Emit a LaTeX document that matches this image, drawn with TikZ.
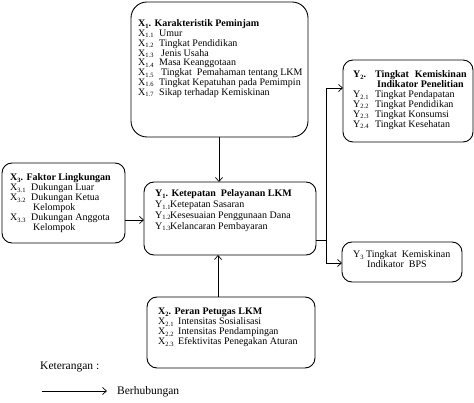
\documentclass[tikz,border=0pt]{standalone}
\usepackage{fontspec}
\setmainfont{Liberation Serif}
\usetikzlibrary{arrows.meta}
\tikzset{
 box/.style={draw, rounded corners=10pt, line width=0.9pt, inner sep=0pt, outer sep=0pt, anchor=north west},
 txt/.style={anchor=base west, inner sep=0pt},
 arr/.style={-{Straight Barb[length=4pt,width=7pt]}, line width=0.7pt},
 conn/.style={line width=0.7pt}
}
\newcommand\lb[2]{\makebox[#1][l]{#2}}
\newcommand\sbs[1]{\raisebox{-0.3ex}{\fontsize{6.5}{6.5}\selectfont #1}}
\begin{document}
\begin{tikzpicture}[x=1pt,y=-1pt]
\useasboundingbox (0,0) rectangle (474,403);
% boxes
\node[box, rounded corners=16pt, minimum width=177pt, minimum height=135pt] (X1) at (131,2) {};
\node[box, minimum width=172pt, minimum height=73pt] (Y1) at (144,182) {};
\node[box, minimum width=123pt, minimum height=80pt] (X3) at (2,163) {};
\node[box, minimum width=130pt, minimum height=82pt] (Y2) at (343,60) {};
\node[box, minimum width=120pt, minimum height=40pt] (Y3) at (342,242) {};
\node[box, minimum width=168pt, minimum height=71pt] (X2) at (147,297) {};
% texts
\node[txt, font=\fontsize{10}{9.6}\selectfont] (X1t) at (138,27) {\begin{tabular}[t]{@{}l@{}}
\textbf{X\sbs{1}. Karakteristik Peminjam}\\
\lb{21pt}{X\sbs{1.1}}Umur\\
\lb{21pt}{X\sbs{1.2}}Tingkat Pendidikan\\
\lb{23pt}{X\sbs{1.3}}Jenis Usaha\\
\lb{21pt}{X\sbs{1.4}}Masa Keanggotaan\\
\lb{23pt}{X\sbs{1.5}}Tingkat~ Pemahaman tentang LKM\\
\lb{21pt}{X\sbs{1.6}}Tingkat Kepatuhan pada Pemimpin\\
\lb{21pt}{X\sbs{1.7}}Sikap terhadap Kemiskinan
\end{tabular}};
\node[txt, font=\fontsize{10}{10}\selectfont] (X3t) at (10,181) {\begin{tabular}[t]{@{}l@{}}
\textbf{X\sbs{3}. Faktor Lingkungan}\\
\lb{21pt}{X\sbs{3.1}}Dukungan Luar\\
\lb{21pt}{X\sbs{3.2}}Dukungan Ketua\\
\hspace*{23pt}Kelompok\\
\lb{21pt}{X\sbs{3.3}}Dukungan Anggota\\
\hspace*{23pt}Kelompok
\end{tabular}};
\node[txt, font=\fontsize{10}{10.8}\selectfont] (Y1t) at (155,197) {\begin{tabular}[t]{@{}l@{}}
\textbf{Y\sbs{1}. Ketepatan~ Pelayanan LKM}\\
\lb{15pt}{Y\sbs{1.1}}Ketepatan Sasaran\\
\lb{15pt}{Y\sbs{1.2}}Kesesuaian Penggunaan Dana\\
\lb{15pt}{Y\sbs{1.3}}Kelancaran Pembayaran
\end{tabular}};
\node[txt, font=\fontsize{10}{9.7}\selectfont] (Y2t) at (353,78) {\begin{tabular}[t]{@{}l@{}}
\textbf{Y\sbs{2}.\hspace{9pt}Tingkat\hspace{6pt}Kemiskinan}\\
\hspace*{24pt}\textbf{Indikator Penelitian}\\
\lb{22pt}{Y\sbs{2.1}}Tingkat Pendapatan\\
\lb{22pt}{Y\sbs{2.2}}Tingkat Pendidikan\\
\lb{22pt}{Y\sbs{2.3}}Tingkat Konsumsi\\
\lb{22pt}{Y\sbs{2.4}}Tingkat Kesehatan
\end{tabular}};
\node[txt, font=\fontsize{10}{10}\selectfont] (Y3t) at (353,258) {\begin{tabular}[t]{@{}l@{}}
Y\sbs{3} Tingkat~ Kemiskinan\\
\hspace*{14pt}Indikator~ BPS
\end{tabular}};
\node[txt, font=\fontsize{10}{9.7}\selectfont] (X2t) at (158,315) {\begin{tabular}[t]{@{}l@{}}
\textbf{X\sbs{2}. Peran Petugas LKM}\\
\lb{20pt}{X\sbs{2.1}}Intensitas Sosialisasi\\
\lb{20pt}{X\sbs{2.2}}Intensitas Pendampingan\\
\lb{20pt}{X\sbs{2.3}}Efektivitas Penegakan Aturan
\end{tabular}};
% legend
\node[txt, font=\fontsize{11.5}{12}\selectfont] (ket) at (40,370) {Keterangan :};
\coordinate (la) at (42,391);
\coordinate (lb) at (107,391);
\draw[arr] (la) -- (lb);
\node[txt, font=\fontsize{11.5}{12}\selectfont] (berh) at (117,394) {Berhubungan};
% connectors
\coordinate (cx1) at (219,0);
\draw[arr] (X1.south -| cx1) -- (Y1.north -| cx1);
\coordinate (cx2) at (218,0);
\draw[arr] (X2.north -| cx2) -- (Y1.south -| cx2);
\coordinate (cy3) at (0,220);
\draw[arr] (X3.east |- cy3) -- (Y1.west |- cy3);
\coordinate (j) at (326,240);
\coordinate (j2) at (326,88);
\coordinate (j3) at (326,263);
\draw[conn] (Y1.east |- j) -- (j);
\draw[arr] (j) -- (j2) -- (Y2.west |- j2);
\draw[arr] (j) -- (j3) -- (Y3.west |- j3);
\end{tikzpicture}
\end{document}
